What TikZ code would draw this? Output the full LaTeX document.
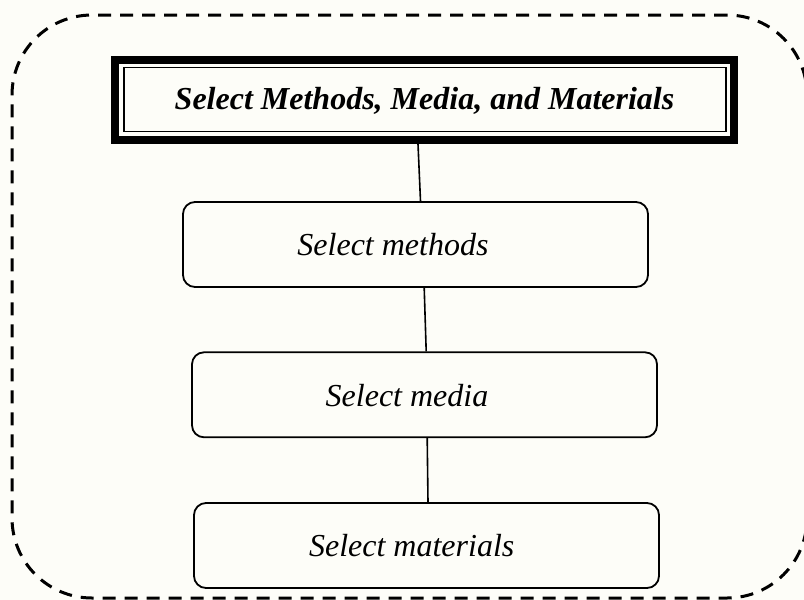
\documentclass[tikz,border=0pt]{standalone}
\usepackage{fontspec}
\setmainfont{Liberation Serif}
\usetikzlibrary{calc}
\begin{document}
\begin{tikzpicture}[x=1pt,y=-1pt,
  stepfont/.style={font=\fontsize{32}{38}\selectfont\itshape},
  titlefont/.style={font=\fontsize{32}{38}\selectfont\bfseries\itshape},
  outline/.style={draw=black, line width=3pt, dash pattern=on 13pt off 9pt,
    rounded corners=80pt, rectangle, inner sep=0pt},
  headbox/.style={draw=black, line width=8pt, rectangle, inner sep=0pt,
    minimum width=619pt, minimum height=80pt},
  stepbox/.style={draw=black, line width=1.8pt, rectangle, rounded corners=12pt,
    inner sep=0pt, minimum width=465pt, minimum height=85pt},
  link/.style={draw=black, line width=1.6pt}]

  % page area
  \useasboundingbox[fill={rgb,255:red,253;green,253;blue,248}] (0,0) rectangle (804,600);

  % dashed enclosing frame
  \node[outline, minimum width=795pt, minimum height=583pt] (frame) at (409.5,306.5) {};

  % heading box with a thick outer border and a thin inner border
  \node[headbox] (title) at (424.5,100) {};
  \node[titlefont] (titletext) at (424.5,101) {Select Methods, Media, and Materials};
  \draw[line width=1.8pt] ($(title.north west)+(12.8,11.5)$) rectangle ($(title.south east)+(-12.3,-12.5)$);

  % steps
  \node[stepbox] (methods)   at (415.5,244.5) {};
  \node[stepbox] (media)     at (424.5,394.8) {};
  \node[stepbox] (materials) at (426.5,545.5) {};
  \node[stepfont] (methodstext)   at (393,245)   {Select methods};
  \node[stepfont] (mediatext)     at (407,395.3) {Select media};
  \node[stepfont] (materialstext) at (411.7,546) {Select materials};

  % connectors
  \draw[link] ([xshift=-6.5pt]title.south) -- ([xshift=5pt]methods.north);
  \draw[link] ([xshift=8.7pt]methods.south) -- ([xshift=1.7pt]media.north);
  \draw[link] ([xshift=2.7pt]media.south) -- ([xshift=1.5pt]materials.north);
\end{tikzpicture}
\end{document}
